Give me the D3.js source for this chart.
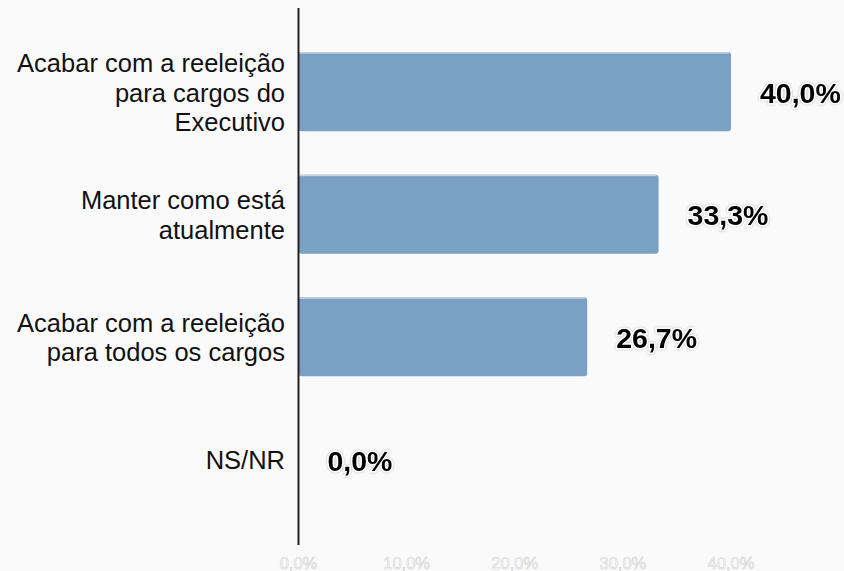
<!DOCTYPE html>
<html><head><meta charset="utf-8">
<script src="https://cdn.jsdelivr.net/npm/d3@7"></script>
<style>
html,body{margin:0;padding:0;background:#fafafa;}
svg{display:block;}
text{font-family:'Liberation Sans', Arial, sans-serif;}
</style></head><body>
<svg id="c" width="844" height="571"></svg>
<script>
const categories = [
  ["Acabar com a reeleição","para cargos do","Executivo"],
  ["Manter como está","atualmente"],
  ["Acabar com a reeleição","para todos os cargos"],
  ["NS/NR"]
];
const values = [40.0, 33.3, 26.7, 0.0];
const tickValues = [0, 10, 20, 30, 40];
const fmt = v => v.toFixed(1).replace(".", ",") + "%";

const svg = d3.select("#c");
svg.append("rect").attr("width",844).attr("height",571).attr("fill","#fafafa");

const x = d3.scaleLinear().domain([0,40]).range([298.5,731]);
const y = d3.scaleBand().domain(d3.range(categories.length)).range([30,521]).paddingInner(0.355).paddingOuter(0.18);

const defs = svg.append("defs");
const f = defs.append("filter").attr("id","sh").attr("x","-20%").attr("y","-30%").attr("width","140%").attr("height","160%");
f.append("feDropShadow").attr("dx",0).attr("dy",0).attr("stdDeviation",1.2).attr("flood-color","#999").attr("flood-opacity",0.7);

// bars
const bars = svg.append("g");
values.forEach((v,i)=>{
  const w = x(v)-x(0);
  if (w>0){
    bars.append("rect").attr("x",x(0)).attr("y",y(i)).attr("width",w).attr("height",y.bandwidth())
      .attr("rx",3).attr("fill","#7aa0c4");
    bars.append("rect").attr("x",x(0)).attr("y",y(i)).attr("width",w-2).attr("height",1.5)
      .attr("fill","#c8d3dd");
  }
});

// axis line
svg.append("line").attr("x1",298.5).attr("x2",298.5).attr("y1",8).attr("y2",545)
  .attr("stroke","#222").attr("stroke-width",2);

// category labels
const lh = 29.5;
categories.forEach((lines,i)=>{
  const cy = y(i)+y.bandwidth()/2 + 1;
  const t = svg.append("text").attr("text-anchor","end")
    .attr("font-size",25.5).attr("fill","#111");
  lines.forEach((l,j)=>{
    t.append("tspan").attr("x",285).attr("y",cy + (j-(lines.length-1)/2)*lh).attr("dy","0.35em").text(l);
  });
});

// value labels
values.forEach((v,i)=>{
  const cy = y(i)+y.bandwidth()/2 + 1;
  svg.append("text").attr("x",x(v)+29).attr("y",cy).attr("dy","0.36em")
    .attr("font-weight","bold").attr("font-size",28.5)
    .attr("fill","#000").attr("stroke","#fff").attr("stroke-width",3).attr("paint-order","stroke")
    .attr("filter","url(#sh)").text(fmt(v));
});

// x axis tick labels (white with light outline)
const ax = svg.append("g").attr("transform","translate(0,563)");
tickValues.forEach(t=>{
  ax.append("text").attr("x",x(t)).attr("y",0).attr("dy","0.35em").attr("text-anchor","middle")
    .attr("font-size",16.5)
    .attr("fill","#fff").attr("stroke","#d2d2d2").attr("stroke-width",0.6).text(fmt(t));
});
</script>
</body></html>
